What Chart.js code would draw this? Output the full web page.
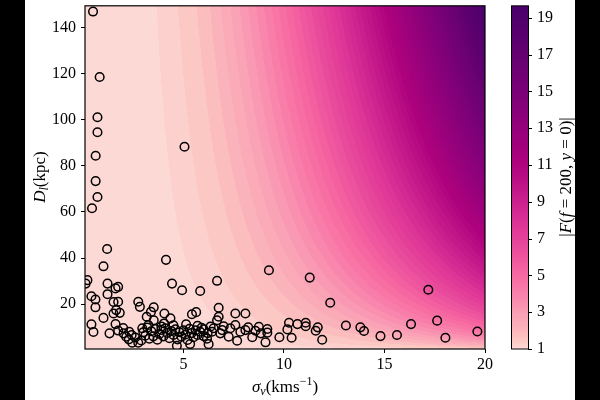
<!DOCTYPE html>
<html><head><meta charset="utf-8">
<script src="https://cdn.jsdelivr.net/npm/chart.js@4"></script>
<style>html,body{margin:0;padding:0;background:#fff}#wrap{width:600px;height:400px}</style>
</head><body><div id="wrap"><canvas id="c" width="600" height="400"></canvas></div>
<script>
// ---- data ----
const sigmaV = [
 0.5,0.83,0.72,0.72,0.63,0.63,0.72,0.45,5.05,
 1.2,1.02,0.22,0.13,4.13,6.67,9.25,11.28,12.3,17.18,
 4.43,4.93,5.83,
 1.22,1.22,1.62,1.75,
 0.42,0.62,0.62,1.52,1.75,1.65,1.83,1.52,1.02,
 0.42,0.52,1.62,1.32,1.75,2.02,2.15,2.28,2.42,2.45,2.75,
 2.75,2.83,2.95,3.25,3.17,3.38,3.52,3.52,
 4.03,4.05,4.35,4.67,5.33,5.13,5.42,5.63,
 7.58,8.08,6.75,6.67,6.75,
 10.25,10.67,11.08,11.08,10.17,11.58,11.68,13.08,13.8,13.98,16.32,17.62,19.62,14.8,15.62,18.03,
 9.77,10.38,11.9,9.08,7.67,7.25,6.25,6.17,8.42,8.85,9.17,9.17,8.75,8.58,8.22,8.08,7.83,7.58,7.33,7.0,6.92,6.5,6.42,6.0,5.83,6.83,
 2.6,2.9,3.1,3.0,3.3,3.5,3.4,3.6,3.7,3.8,3.9,4.0,4.1,4.2,4.3,4.4,4.5,4.6,4.7,4.8,4.9,5.0,5.1,5.2,5.3,5.4,5.5,5.6,5.7,5.9,6.0,6.2,3.2,3.9,4.5,5.7,6.35,
 2.3,2.0
];
const distKpc = [
 147,118.6,101.1,94.6,84.4,73.4,66.5,61.6,88.3,
 43.9,36.4,30.4,28.9,39.2,30.1,34.7,31.5,20.6,26.2,
 28.9,26.0,25.7,
 28.9,24.3,26.8,27.5,
 23.4,22.0,18.6,20.9,21.0,17.4,16.2,15.9,14.0,
 11.2,7.9,11.3,7.3,8.5,7.3,5.8,4.7,6.6,3.2,3.2,
 21.0,18.8,9.5,10.9,14.5,16.6,18.6,13.0,
 11.6,15.9,13.8,1.9,2.65,11.2,15.6,16.5,
 15.9,15.9,18.4,13.0,14.5,
 11.9,11.3,11.9,10.4,9.0,8.4,9.9,10.7,9.9,8.3,11.3,12.8,8.1,6.1,6.6,5.4,
 5.6,5.4,4.5,3.4,4.1,5.8,2.6,5.0,5.6,7.3,9.2,7.6,10.1,8.4,9.9,8.7,8.0,10.9,9.5,10.4,8.7,9.5,8.0,9.0,8.0,7.3,
 5.5,4.2,6.3,7.8,5.0,6.0,8.2,9.2,4.5,7.0,8.8,6.0,9.5,7.5,5.2,8.3,6.6,9.0,4.7,7.8,5.8,8.6,6.8,4.4,9.3,7.4,5.6,8.6,6.6,9.7,6.1,7.4,9.8,10.3,10.8,10.6,10.3,
 8.0,9.6
];
const xTicks = [5, 10, 15, 20];
const yTicks = [20, 40, 60, 80, 100, 120, 140];
const cbTicks = [1, 3, 5, 7, 9, 11, 13, 15, 17, 19];
const xRange = [0.1, 20];
const yRange = [0.5, 149.5];
const cbRange = [1, 19.65];
// contour model |F| = sqrt(x/(1-e^-x)), x = lensK * sigma^4 * D
const lensK = 1.614e-5;
const firstLevel = 1.11, levelStart = 1.31, levelStep = 1/3;
const colorGamma = 0.55, colorStart = 0.12;
const RdPu = [[255,247,243],[253,224,221],[252,197,192],[250,159,181],[247,104,161],[221,52,151],[174,1,126],[122,1,119],[73,0,106]];

const serif = "'Liberation Serif','DejaVu Serif',serif";

// ---- helpers ----
const levels = [firstLevel];
for (let v = levelStart; v < cbRange[1]; v += levelStep) levels.push(v);
function absF(s, d){ const x = lensK*Math.pow(s,4)*d; return x < 1e-9 ? 1 : Math.sqrt(x/(1-Math.exp(-x))); }
function tOf(v){ const r = Math.max(0, Math.min(1, (v-cbRange[0])/(cbRange[1]-cbRange[0]))); return colorStart + (1-colorStart)*Math.pow(r, colorGamma); }
function cmap(t){ t=Math.max(0,Math.min(1,t)); const p=t*8; const i=Math.min(7,Math.floor(p)); const f=p-i; const a=RdPu[i], b=RdPu[i+1];
  return [a[0]+(b[0]-a[0])*f, a[1]+(b[1]-a[1])*f, a[2]+(b[2]-a[2])*f]; }
function bandValue(F){
  if (F < levels[0]) return (cbRange[0]+levels[0])/2;
  for (let i=0;i<levels.length-1;i++) if (F < levels[i+1]) return (levels[i]+levels[i+1])/2;
  return (levels[levels.length-1]+cbRange[1])/2;
}
function drawRich(ctx, segs, x, y, rot){
  ctx.save(); ctx.translate(x,y); ctx.rotate(rot||0);
  let total=0; const ws=[];
  segs.forEach(s=>{ ctx.font=(s.it?'italic ':'')+s.sz+'px '+serif; const w=ctx.measureText(s.t).width; ws.push(w); total+=w; });
  let cx=-total/2; ctx.fillStyle='#000'; ctx.textBaseline='alphabetic'; ctx.textAlign='left';
  segs.forEach((s,i)=>{ ctx.font=(s.it?'italic ':'')+s.sz+'px '+serif; ctx.fillText(s.t, cx, s.dy||0); cx+=ws[i]; });
  ctx.restore();
}
function noPad(s){ s.paddingTop=0; s.paddingBottom=0; s.paddingLeft=0; s.paddingRight=0; }

const fieldPlugin = {
  id:'field',
  beforeDraw(chart){ const c=chart.ctx; c.save(); c.fillStyle='#fff'; c.fillRect(0,0,chart.width,chart.height); c.restore(); },
  beforeDatasetsDraw(chart){
    const {ctx, chartArea, scales} = chart; const xs=scales.x, ys=scales.y;
    const L=Math.round(chartArea.left), T=Math.round(chartArea.top), R=Math.round(chartArea.right), B=Math.round(chartArea.bottom);
    const w=R-L, h=B-T; const img=ctx.createImageData(w,h);
    for (let j=0;j<h;j++){ const d=ys.getValueForPixel(T+j+0.5);
      for (let i=0;i<w;i++){ const s=xs.getValueForPixel(L+i+0.5);
        const col=cmap(tOf(bandValue(absF(s,d)))); const k=(j*w+i)*4;
        img.data[k]=col[0]; img.data[k+1]=col[1]; img.data[k+2]=col[2]; img.data[k+3]=255; } }
    ctx.putImageData(img,L,T);
  },
  afterDraw(chart){
    const {ctx, chartArea, scales} = chart; const cb=scales.cb;
    ctx.save(); ctx.strokeStyle='#000'; ctx.lineWidth=1.2;
    ctx.strokeRect(chartArea.left, chartArea.top, chartArea.right-chartArea.left, chartArea.bottom-chartArea.top);
    const cx0=511, cx1=528;
    for (let py=Math.round(cb.top); py<Math.round(cb.bottom); py++){
      const c=cmap(tOf(cb.getValueForPixel(py+0.5)));
      ctx.fillStyle='rgb('+c.map(Math.round).join(',')+')'; ctx.fillRect(cx0,py,cx1-cx0,1);
    }
    ctx.lineWidth=1; ctx.strokeStyle='#000';
    ctx.strokeRect(cx0+0.5, cb.top, cx1-cx0, cb.bottom-cb.top);
    cbTicks.forEach(v=>{ const py=Math.round(cb.getPixelForValue(v))+0.5; ctx.beginPath(); ctx.moveTo(cx1,py); ctx.lineTo(cx1+4,py); ctx.stroke(); });
    ctx.restore();
    drawRich(ctx,[{t:'σ',it:true,sz:17},{t:'v',it:true,sz:12,dy:3},{t:'(kms',sz:17},{t:'−1',sz:12,dy:-7},{t:')',sz:17}],285,392,0);
    drawRich(ctx,[{t:'D',it:true,sz:17},{t:'l',it:true,sz:12,dy:3},{t:'(kpc)',sz:17}],45,177,-Math.PI/2);
    drawRich(ctx,[{t:'|',sz:17},{t:'F',it:true,sz:17},{t:'(',sz:17},{t:'f',it:true,sz:17},{t:' = 200, ',sz:17},{t:'y',it:true,sz:17},{t:' = 0)|',sz:17}],571,177,-Math.PI/2);
    ctx.save(); ctx.fillStyle='#000'; ctx.fillRect(0,0,25,400); ctx.fillRect(575,0,25,400); ctx.restore();
  }
};

const tickFont = {family: serif, size: 16};
new Chart(document.getElementById('c'), {
  type:'scatter',
  data:{ datasets:[{ data: sigmaV.map((s,i)=>({x:s, y:distKpc[i]})), pointRadius:4.3, pointHoverRadius:4.3,
    borderColor:'#000', backgroundColor:'rgba(0,0,0,0)', borderWidth:1.5 }] },
  options:{
    responsive:false, animation:false, devicePixelRatio:1,
    layout:{padding:{top:5,left:0,right:0,bottom:0}},
    plugins:{legend:{display:false}, tooltip:{enabled:false}},
    scales:{
      x:{type:'linear', min:xRange[0], max:xRange[1],
         afterBuildTicks:s=>{s.ticks=xTicks.map(v=>({value:v}));}, afterFit:s=>{s.height=51; noPad(s);},
         grid:{display:true, drawOnChartArea:false, drawTicks:true, tickLength:4, tickColor:'#000', color:'#000'},
         border:{display:false}, ticks:{padding:2, color:'#000', font:tickFont, maxRotation:0}},
      y:{type:'linear', min:yRange[0], max:yRange[1],
         afterBuildTicks:s=>{s.ticks=yTicks.map(v=>({value:v}));}, afterFit:s=>{s.width=85; noPad(s);},
         grid:{display:true, drawOnChartArea:false, drawTicks:true, tickLength:4, tickColor:'#000', color:'#000'},
         border:{display:false}, ticks:{padding:5, color:'#000', font:tickFont}},
      cb:{type:'linear', position:'right', min:cbRange[0], max:cbRange[1],
         afterBuildTicks:s=>{s.ticks=cbTicks.map(v=>({value:v}));}, afterFit:s=>{s.width=115; noPad(s);},
         grid:{display:false, drawTicks:false}, border:{display:false},
         ticks:{padding:52, color:'#000', font:tickFont}}
    }
  },
  plugins:[fieldPlugin]
});
</script></body></html>
